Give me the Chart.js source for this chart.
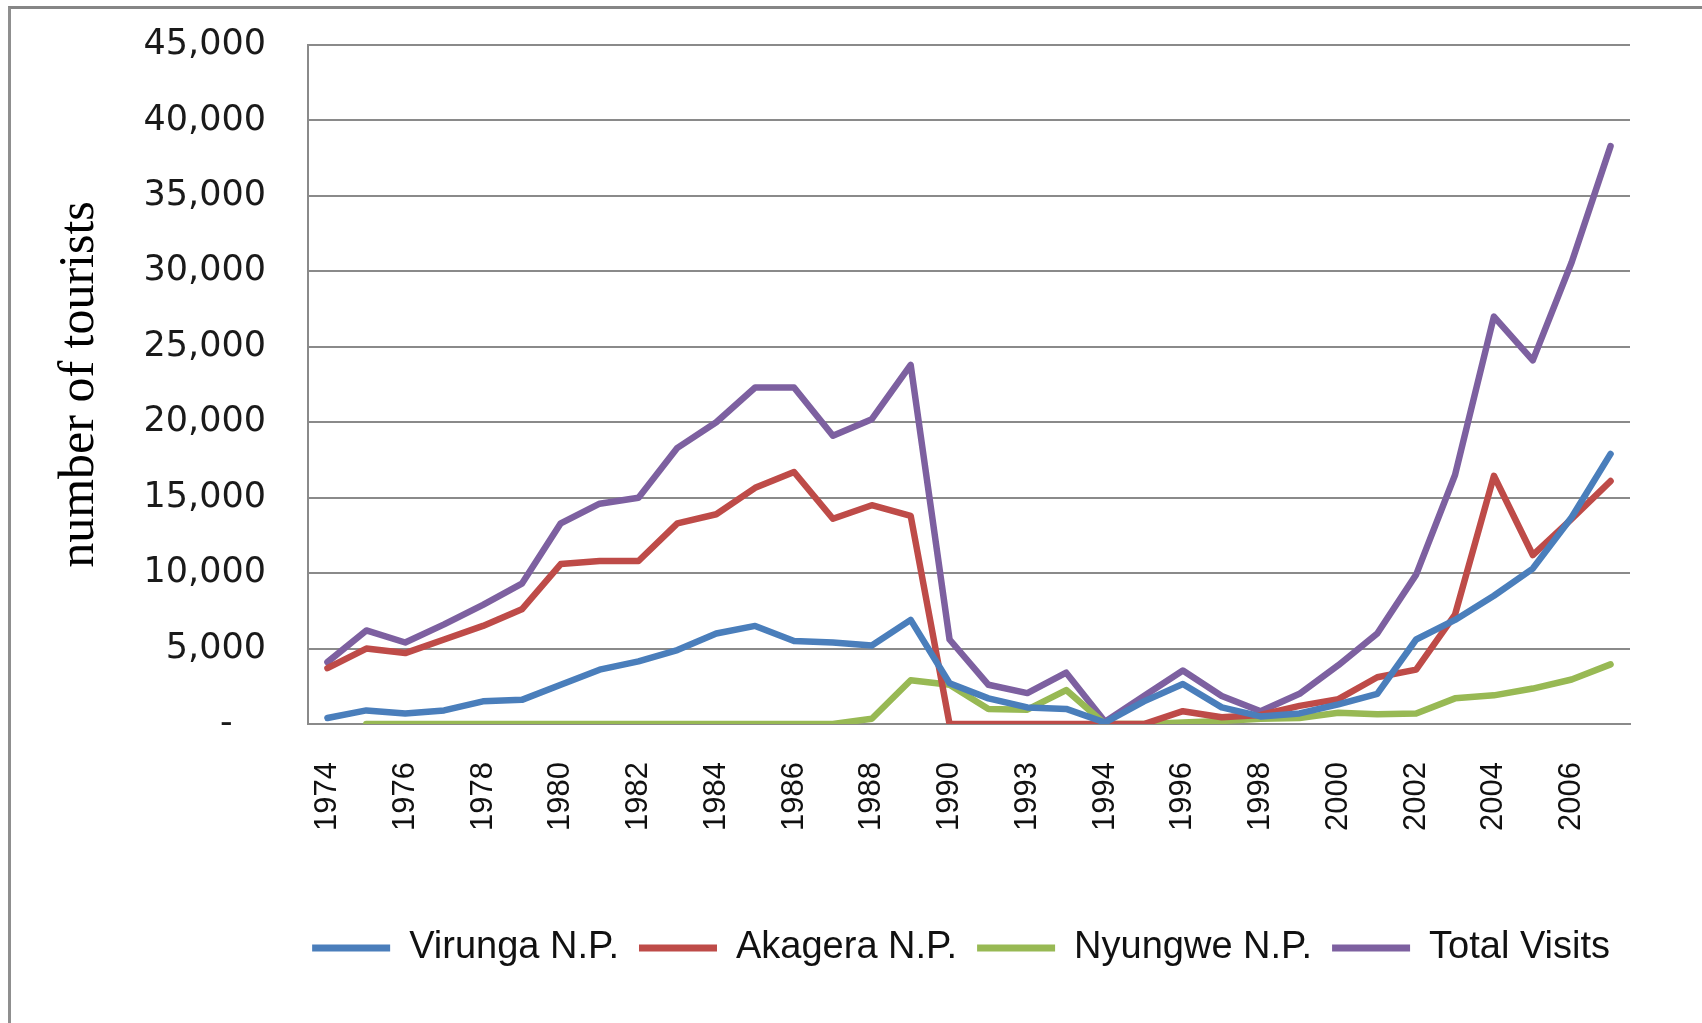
<!DOCTYPE html>
<html>
<head>
<meta charset="utf-8">
<script src="https://cdn.jsdelivr.net/npm/chart.js@4"></script>
<style>
  body { margin: 0; background: #fff; }
  #wrap { position: relative; width: 1702px; height: 1023px; }
  #frame { position: absolute; left: 8px; top: 6px; right: 0; bottom: 0; border-left: 3px solid #8f8f8f; border-top: 3px solid #868686; pointer-events: none; }
</style>
</head>
<body>
<div id="wrap">
  <canvas id="chart"></canvas>
  <div id="frame"></div>
</div>
<script>
// years on the x axis (the source sheet labels one slot 1993 twice)
const years = ['1974','1975','1976','1977','1978','1979','1980','1981','1982','1983','1984','1985','1986','1987','1988','1989','1990','1991','1993','1993','1994','1995','1996','1997','1998','1999','2000','2001','2002','2003','2004','2005','2006','2007']

const virunga = [400, 900, 700, 900, 1500, 1600, 2600, 3600, 4150, 4900, 6000, 6500, 5500, 5400, 5200, 6900, 2700, 1700, 1100, 1000, 100, 1500, 2650, 1100, 500, 700, 1300, 2000, 5600, 6900, 8500, 10300, 13700, 17900]
const akagera = [3700, 5000, 4700, 5600, 6500, 7600, 10600, 10800, 10800, 13300, 13900, 15650, 16700, 13600, 14500, 13800, 0, 0, 0, 0, 0, 0, 850, 450, 600, 1200, 1650, 3100, 3600, 7250, 16450, 11200, 13600, 16100]
const nyungwe = [null, 0, 0, 0, 0, 0, 0, 0, 0, 0, 0, 0, 0, 0, 350, 2900, 2600, 1000, 950, 2250, 0, 0, 100, 200, 350, 400, 750, 650, 700, 1700, 1900, 2350, 2950, 3950]
const total = [4100, 6200, 5400, 6600, 7900, 9300, 13300, 14600, 15000, 18300, 20000, 22300, 22300, 19100, 20200, 23800, 5600, 2600, 2050, 3400, 150, 1850, 3550, 1850, 850, 2000, 3900, 6000, 9900, 16500, 27000, 24100, 30600, 38300]

const seriesNames = ['Virunga N.P.', 'Akagera N.P.', 'Nyungwe N.P.', 'Total Visits']
const seriesColours = ['#4a7ebb', '#be4b48', '#98b954', '#7d60a0']

const gridCol = '#8a8a8a'

function makeSet(i, values) {
    return {
        label: seriesNames[i],
        data: values,
        borderColor: seriesColours[i],
        backgroundColor: seriesColours[i],
        borderWidth: 6.5,
        pointRadius: 0,
        tension: 0,
        fill: false,
        borderJoinStyle: 'round',
        borderCapStyle: 'round'
    }
}

const ctx = document.getElementById('chart').getContext('2d')

new Chart(ctx, {
    type: 'line',
    data: {
        labels: years,
        datasets: [makeSet(0, virunga), makeSet(1, akagera), makeSet(2, nyungwe), makeSet(3, total)]
    },
    options: {
        responsive: true,
        maintainAspectRatio: false,
        animation: false,
        layout: { padding: { top: 45, right: 72, bottom: 46, left: 0 } },
        scales: {
            x: {
                offset: true,
                grid: { display: false, drawTicks: false },
                border: { display: true, color: gridCol, width: 2 },
                ticks: {
                    autoSkip: false,
                    minRotation: 90,
                    maxRotation: 90,
                    padding: 38,
                    color: '#111',
                    font: { family: 'Liberation Sans', size: 31 },
                    callback: function (v, i) { return i % 2 === 0 ? years[i] : '' }
                },
                afterFit: function (scale) { scale.height = 185 }
            },
            y: {
                min: 0,
                max: 45000,
                // invisible tick marks give the gap, so the label padding stays small
                grid: { color: gridCol, lineWidth: 2, drawTicks: true, tickLength: 38, tickColor: 'rgba(0,0,0,0)' },
                border: { display: true, color: gridCol, width: 2 },
                ticks: {
                    stepSize: 5000,
                    padding: 4,
                    color: '#1a1a1a',
                    font: { family: 'DejaVu Sans', size: 35 },
                    callback: function (v) { return v === 0 ? '-   ' : v.toLocaleString('en-US') }
                },
                title: {
                    display: true,
                    text: 'number of tourists',
                    color: '#000',
                    font: { family: 'Liberation Serif', size: 50 },
                    padding: { top: 50, bottom: 0 }
                },
                afterFit: function (scale) { scale.width = 308 }
            }
        },
        plugins: {
            tooltip: { enabled: false },
            legend: {
                position: 'bottom',
                align: 'end',
                labels: {
                    boxWidth: 78,
                    boxHeight: 7,
                    padding: 20,
                    color: '#111',
                    font: { family: 'Liberation Sans', size: 38 },
                    generateLabels: function (chart) {
                        return Chart.defaults.plugins.legend.labels.generateLabels(chart).map(function (l) {
                            l.lineWidth = 0
                            return l
                        })
                    }
                }
            }
        }
    }
})
</script>
</body>
</html>
